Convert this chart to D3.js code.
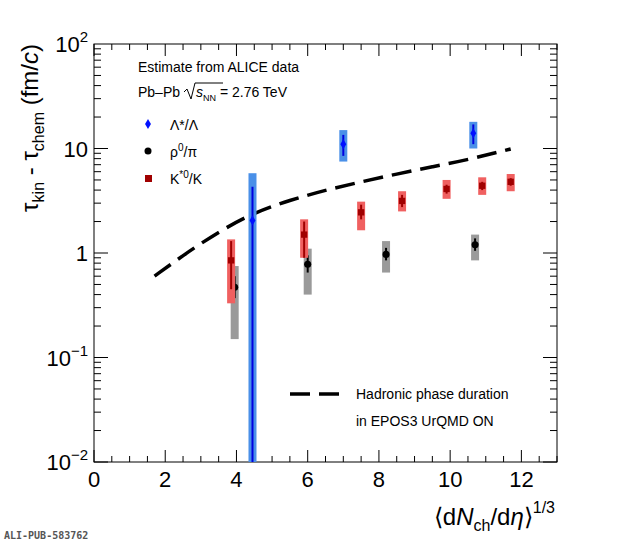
<!DOCTYPE html><html><head><meta charset="utf-8"><script src="https://cdn.jsdelivr.net/npm/d3@7"></script>
<style>body{margin:0;background:#fff}text{font-family:"Liberation Sans",Arial,sans-serif}</style></head><body>
<svg id="c" width="620" height="544"></svg>
<script>
const lambdaX=[4.45,7.0,10.65], lambdaY=[2.05,11,14], lambdaStat=[[0.01,4.3],[8.5,13.5],[11,17]], lambdaSys=[[0.01,5.8],[7.5,15],[10,18]];
const rhoX=[3.95,6.0,8.2,10.7], rhoY=[0.47,0.78,0.97,1.2], rhoStat=[[0.37,0.6],[0.65,0.95],[0.85,1.12],[1.05,1.38]], rhoSys=[[0.15,0.75],[0.4,1.1],[0.65,1.3],[0.85,1.5]];
const kX=[3.85,5.9,7.5,8.65,9.9,10.9,11.7], kY=[0.85,1.5,2.45,3.15,4.1,4.4,4.8], kStat=[[0.45,1.3],[0.9,2.0],[2.1,2.9],[2.75,3.6],[3.7,4.5],[4.0,4.8],[4.4,5.2]], kSys=[[0.33,1.35],[0.9,2.1],[1.65,3.1],[2.5,3.9],[3.3,5.0],[3.6,5.3],[3.9,5.7]];
const curveX=[1.7,2.5,3.5,4.5,5.5,6.5,7.5,8.5,9.5,10.5,11.7], curveY=[0.6,0.95,1.6,2.45,3.2,4.0,4.8,5.7,6.7,7.8,9.9];
const xTicks=[0,2,4,6,8,10,12];
const svg=d3.select("#c");
const L=94,R=557,T=44,B=462;
const x=d3.scaleLinear().domain([0,13]).range([L,R]);
const y=d3.scaleLog().domain([0.01,100]).range([B,T]).clamp(true);
svg.append("rect").attr("x",L).attr("y",T).attr("width",R-L).attr("height",B-T).attr("fill","none").attr("stroke","#000");
const g=svg.append("g");
for(let v=0;v<=13;v+=0.5){const maj=v%2===0;const len=maj?12:6;
 g.append("line").attr("x1",x(v)).attr("x2",x(v)).attr("y1",B).attr("y2",B-len).attr("stroke","#000");
 g.append("line").attr("x1",x(v)).attr("x2",x(v)).attr("y1",T).attr("y2",T+len).attr("stroke","#000");}
xTicks.forEach(v=>g.append("text").attr("x",x(v)).attr("y",B+25).attr("text-anchor","middle").attr("font-size",22).text(v));
for(let e=-2;e<2;e++)for(let m=1;m<10;m++){const v=m*Math.pow(10,e);const len=m===1?14:7;
 g.append("line").attr("x1",L).attr("x2",L+len).attr("y1",y(v)).attr("y2",y(v)).attr("stroke","#000");
 g.append("line").attr("x1",R).attr("x2",R-len).attr("y1",y(v)).attr("y2",y(v)).attr("stroke","#000");}
[[0.01,"10","−2"],[0.1,"10","−1"],[1,"1",""],[10,"10",""],[100,"10","2"]].forEach(([v,b,s])=>{
 const t=g.append("text").attr("x",L-6).attr("y",y(v)+8).attr("text-anchor","end").attr("font-size",22);
 t.append("tspan").text(b); if(s) t.append("tspan").attr("dy",-10).attr("font-size",15).text(s);});
svg.append("path").datum(curveX.map((v,i)=>[v,curveY[i]])).attr("d",d3.line().x(d=>x(d[0])).y(d=>y(d[1])).curve(d3.curveBasis))
 .attr("fill","none").attr("stroke","#000").attr("stroke-width",3.5).attr("stroke-dasharray","20,9");
function series(X,Y,st,sy,box,line,col,shape){
 X.forEach((xv,i)=>{svg.append("rect").attr("x",x(xv)-4).attr("width",8).attr("y",y(sy[i][1])).attr("height",y(sy[i][0])-y(sy[i][1])).attr("fill",box);
  svg.append("line").attr("x1",x(xv)).attr("x2",x(xv)).attr("y1",y(st[i][0])).attr("y2",y(st[i][1])).attr("stroke",line).attr("stroke-width",2);
  svg.append("path").attr("transform",`translate(${x(xv)},${y(Y[i])})`).attr("d",d3.symbol().type(shape).size(shape===d3.symbolDiamond?30:40)()).attr("fill",col);});}
series(rhoX,rhoY,rhoStat,rhoSys,"#9a9a9a","#000","#000",d3.symbolCircle);
series(kX,kY,kStat,kSys,"#f06060","#a00000","#a00000",d3.symbolSquare);
series(lambdaX,lambdaY,lambdaStat,lambdaSys,"#4a90e8","#0000e0","#0010ff",d3.symbolDiamond);
const tx=(xx,yy,s,fs)=>svg.append("text").attr("x",xx).attr("y",yy).attr("font-size",fs||14).html(s);
tx(138,72,"Estimate from ALICE data");
tx(138,97,"Pb–Pb");
svg.append("path").attr("d","M184,92 l3,-3 l4,10 l4,-16 h28").attr("fill","none").attr("stroke","#000");
tx(196,97,'<tspan font-style="italic">s</tspan><tspan font-size="9" dy="4">NN</tspan><tspan dy="-4"> = 2.76 TeV</tspan>');
svg.append("path").attr("transform","translate(148,124)").attr("d",d3.symbol().type(d3.symbolDiamond).size(30)()).attr("fill","#0010ff");
tx(170,130,"Λ*/Λ");
svg.append("circle").attr("cx",148).attr("cy",151).attr("r",3.5).attr("fill","#000");
tx(170,157,'ρ<tspan dy="-6" font-size="10">0</tspan><tspan dy="6">/π</tspan>');
svg.append("rect").attr("x",145).attr("y",175).attr("width",7).attr("height",7).attr("fill","#a00000");
tx(170,184,'K<tspan dy="-6" font-size="10">*0</tspan><tspan dy="6">/K</tspan>');
svg.append("line").attr("x1",290).attr("x2",340).attr("y1",394).attr("y2",394).attr("stroke","#000").attr("stroke-width",3.5).attr("stroke-dasharray","20,9");
tx(356,399,"Hadronic phase duration");
tx(356,426,"in EPOS3 UrQMD ON");
svg.append("text").attr("x",555).attr("y",525).attr("text-anchor","end").attr("font-size",24)
 .html('⟨d<tspan font-style="italic">N</tspan><tspan font-size="16" dy="6">ch</tspan><tspan dy="-6">/d</tspan><tspan font-style="italic">η</tspan>⟩<tspan font-size="16" dy="-12">1/3</tspan>');
svg.append("text").attr("transform","translate(38,44) rotate(-90)").attr("text-anchor","end").attr("font-size",24)
 .html('τ<tspan font-size="16" dy="6">kin</tspan><tspan dy="-6"> - τ</tspan><tspan font-size="16" dy="6">chem</tspan><tspan dy="-6"> (fm/</tspan><tspan font-style="italic">c</tspan>)');
svg.append("text").attr("x",4).attr("y",539).attr("font-size",10).style("font-family","'DejaVu Sans Mono',monospace").attr("font-weight","bold").attr("fill","#555").text("ALI-PUB-583762");
</script></body></html>
